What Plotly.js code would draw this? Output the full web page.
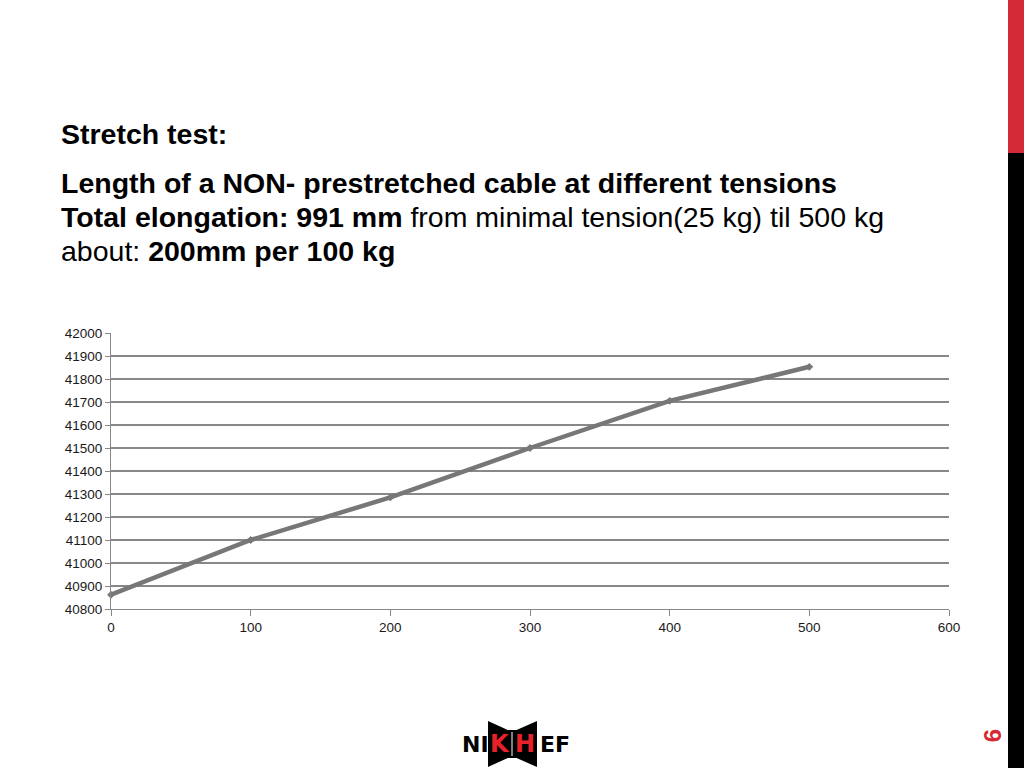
<!DOCTYPE html>
<html>
<head>
<meta charset="utf-8">
<script src="https://cdn.plot.ly/plotly-3.0.1.min.js"></script>
<style>
  html, body { margin: 0; padding: 0; background: #fff; }
  #chart { width: 1024px; height: 768px; }
</style>
</head>
<body>
<div id="chart"></div>
<script>
// Data
const tensionKg = [0, 100, 200, 300, 400, 500];
const lengthMm = [40862, 41100, 41285, 41500, 41705, 41853];
const xTicks = [0, 100, 200, 300, 400, 500, 600];
const yTicks = [40800, 40900, 41000, 41100, 41200, 41300, 41400, 41500, 41600, 41700, 41800, 41900, 42000];

// Plot area geometry (px)
const W = 1024, H = 768;
const L = 111, R = 949, T = 333, B = 609;
const pw = R - L, ph = B - T;
const px = v => (v - L) / pw;        // pixel x -> paper x
const py = v => (B - v) / ph;        // pixel y -> paper y

const font = "Liberation Sans, Arial, sans-serif";

const trace = {
  x: tensionKg,
  y: lengthMm,
  type: 'scatter',
  mode: 'lines+markers',
  line: { color: '#777777', width: 4.5 },
  marker: { symbol: 'diamond', size: 6, color: '#777777' },
  hoverinfo: 'skip',
  cliponaxis: false
};

const textAnn = (x, y, text, size) => ({
  xref: 'paper', yref: 'paper', x: px(x), y: py(y),
  xanchor: 'left', yanchor: 'middle', showarrow: false,
  text: text, font: { family: font, size: size, color: '#000' }
});

const logoFont = 'DejaVu Sans, sans-serif';

const layout = {
  width: W, height: H,
  margin: { l: L, r: W - R, t: T, b: H - B, pad: 0 },
  paper_bgcolor: '#fff', plot_bgcolor: '#fff',
  showlegend: false,
  xaxis: {
    range: [0, 600], tickvals: xTicks, ticktext: xTicks.map(String),
    showgrid: false, zeroline: false,
    showline: true, linecolor: '#888888', linewidth: 1,
    ticks: 'outside', ticklen: 6, tickcolor: '#888888',
    tickfont: { family: font, size: 13.5, color: '#1a1a1a' },
    fixedrange: true
  },
  yaxis: {
    range: [40800, 42000], tickvals: yTicks, ticktext: yTicks.map(String),
    showgrid: true, gridcolor: '#888888', gridwidth: 1.2,
    zeroline: false,
    showline: true, linecolor: '#888888', linewidth: 1,
    ticks: 'outside', ticklen: 5, tickcolor: '#888888',
    tickfont: { family: font, size: 13.5, color: '#1a1a1a' },
    fixedrange: true
  },
  shapes: [
    // right-hand decorative bar
    { type: 'rect', xref: 'paper', yref: 'paper', x0: px(1008), x1: px(1024), y0: py(0), y1: py(153),
      fillcolor: '#d42a35', line: { width: 0 }, layer: 'above' },
    { type: 'rect', xref: 'paper', yref: 'paper', x0: px(1008), x1: px(1024), y0: py(153), y1: py(768),
      fillcolor: '#000', line: { width: 0 }, layer: 'above' },
    // logo centre block
    { type: 'path', xref: 'paper', yref: 'paper',
      path: `M ${px(488)} ${py(721)} L ${px(512)} ${py(732)} L ${px(537)} ${py(721)} L ${px(537)} ${py(767)} L ${px(512)} ${py(756)} L ${px(488)} ${py(767)} Z`,
      fillcolor: '#000', line: { width: 0 }, layer: 'above' },
    { type: 'rect', xref: 'paper', yref: 'paper', x0: px(488), x1: px(537), y0: py(730), y1: py(758),
      fillcolor: '#000', line: { width: 0 }, layer: 'above' },
    { type: 'line', xref: 'paper', yref: 'paper', x0: px(512), x1: px(512), y0: py(732), y1: py(756),
      line: { color: '#fff', width: 1 }, layer: 'above' }
  ],
  annotations: [
    textAnn(59, 134, '<b>Stretch test:</b>', 28.5),
    textAnn(59, 183, '<b>Length of a NON- prestretched cable at different tensions</b>', 28.5),
    textAnn(59, 217, '<b>Total elongation: 991 mm</b> from minimal tension(25 kg) til 500 kg', 28.5),
    textAnn(59, 251, 'about: <b>200mm per 100 kg</b>', 28.5),
    // logo letters
    { xref: 'paper', yref: 'paper', x: px(475), y: py(744), xanchor: 'center', yanchor: 'middle', showarrow: false,
      text: '<b>NI</b>', font: { family: logoFont, size: 22, color: '#000' } },
    { xref: 'paper', yref: 'paper', x: px(500), y: py(744), xanchor: 'center', yanchor: 'middle', showarrow: false,
      text: '<b>K</b>', font: { family: logoFont, size: 24, color: '#e8202a' } },
    { xref: 'paper', yref: 'paper', x: px(525), y: py(744), xanchor: 'center', yanchor: 'middle', showarrow: false,
      text: '<b>H</b>', font: { family: logoFont, size: 24, color: '#e8202a' } },
    { xref: 'paper', yref: 'paper', x: px(555), y: py(744), xanchor: 'center', yanchor: 'middle', showarrow: false,
      text: '<b>EF</b>', font: { family: logoFont, size: 22, color: '#000' } },
    // page number
    { xref: 'paper', yref: 'paper', x: px(993), y: py(735), xanchor: 'center', yanchor: 'middle', showarrow: false,
      text: '<b>9</b>', textangle: 90, font: { family: font, size: 24, color: '#d42a35' } }
  ]
};

Plotly.newPlot('chart', [trace], layout, { staticPlot: true, displayModeBar: false });
</script>
</body>
</html>
